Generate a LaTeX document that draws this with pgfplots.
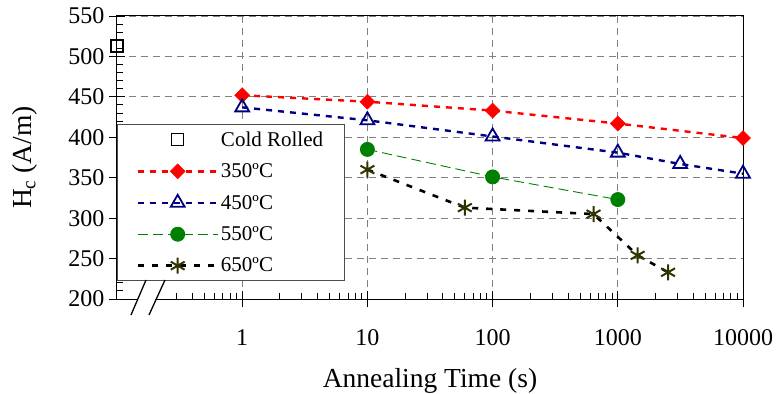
\documentclass[border=0pt]{standalone}
\usepackage{fontspec}
\setmainfont{Liberation Serif}
\usepackage{pgfplots}
\pgfplotsset{compat=1.18}
\definecolor{navyb}{RGB}{0,0,128}
\definecolor{grn}{RGB}{0,128,0}
\definecolor{olivedk}{RGB}{51,51,0}
\begin{document}
\begin{tikzpicture}
\begin{axis}[
  at={(0,0)}, anchor=south west,
  scale only axis, width=626bp, height=283bp,
  xmode=log, xmin=0.1, xmax=10000, ymin=200, ymax=550,
  xtick={1,10,100,1000,10000}, xticklabels={1,10,100,1000,10000},
  minor xtick={0.2,0.3,0.4,0.5,0.6,0.7,0.8,0.9,2,3,4,5,6,7,8,9,20,30,40,50,60,70,80,90,200,300,400,500,600,700,800,900,2000,3000,4000,5000,6000,7000,8000,9000},
  ytick={200,250,300,350,400,450,500,550}, minor y tick num=4,
  tick pos=left, tick align=inside,
  major tick length=16bp, minor tick length=6bp,
  major x tick style={yshift=-8bp}, major y tick style={xshift=-8bp},
  tick style={black, line width=0.9bp},
  axis line style={black, line width=1bp},
  xmajorgrids, ymajorgrids,
  major grid style={gray, dash pattern=on 7bp off 5bp, line width=0.8bp},
  /pgf/number format/assume math mode=true,
  ticklabel style={font=\fontsize{24bp}{28bp}\selectfont},
  xticklabel style={yshift=-27bp},
  yticklabel style={xshift=-9bp},
  label style={font=\fontsize{27.5bp}{32bp}\selectfont},
  xlabel={Annealing Time (s)}, ylabel={H\textsubscript{c} (A/m)},
  xlabel style={at={(axis description cs:0.5,-0.232)}, anchor=north},
  ylabel style={at={(axis description cs:-0.147,0.5)}, anchor=center},
  clip=false,
  legend cell align=left,
  legend style={at={(rel axis cs:0,0.618)}, anchor=north west,
    draw=gray!60!black, line width=0.8bp, fill=white,
    font=\fontsize{21bp}{25bp}\selectfont,
    inner xsep=19bp, inner ysep=5bp, row sep=12bp,
    nodes={inner xsep=2bp, inner ysep=2bp}},
  legend image code/.code={\draw[mark repeat=2,mark phase=2,#1] plot coordinates {(0bp,0bp) (40bp,0bp) (80bp,0bp)};},
]
\addplot[only marks, black, mark=square, mark size=6bp, mark options={line width=1.6bp}]
  coordinates {(0.1,513)};
\addlegendentry{Cold Rolled}
\addplot[red, line width=2.4bp, dash pattern=on 6bp off 6bp, mark=square*, mark size=5.3bp,
  mark options={solid, rotate=45, fill=red, line width=0.5bp}]
  coordinates {(1,452) (10,444) (100,433) (1000,417) (10000,399)};
\addlegendentry{350ºC}
\addplot[navyb, line width=2.4bp, dash pattern=on 6bp off 6bp, mark=triangle, mark size=8bp,
  mark options={solid, fill=white, line width=1.8bp}]
  coordinates {(1,437) (10,421) (100,401) (1000,381) (3150,367) (10000,355)};
\addlegendentry{450ºC}
\addplot[grn, line width=0.9bp, dash pattern=on 10bp off 5bp, mark=*, mark size=7bp,
  mark options={solid, fill=grn}]
  coordinates {(10,385) (100,351) (1000,323)};
\addlegendentry{550ºC}
\addplot[black, line width=2.6bp, dash pattern=on 6bp off 8bp, mark=asterisk, mark size=8bp,
  mark options={solid, draw=olivedk, line width=2bp}]
  coordinates {(10,360) (60,313) (640,305) (1440,254) (2520,233)};
\addlegendentry{650ºC}
\end{axis}
\fill[white] (19bp,-3bp) -- (37bp,-3bp) -- (41.5bp,6.5bp) -- (23bp,6.5bp) -- cycle;
\draw[black, line width=1.3bp] (14bp,-16bp) -- (29bp,19bp);
\draw[black, line width=1.3bp] (32bp,-16bp) -- (48bp,19bp);
\pgfresetboundingbox
\path[use as bounding box] (-117bp,-95bp) rectangle (662bp,299bp);
\end{tikzpicture}
\end{document}
